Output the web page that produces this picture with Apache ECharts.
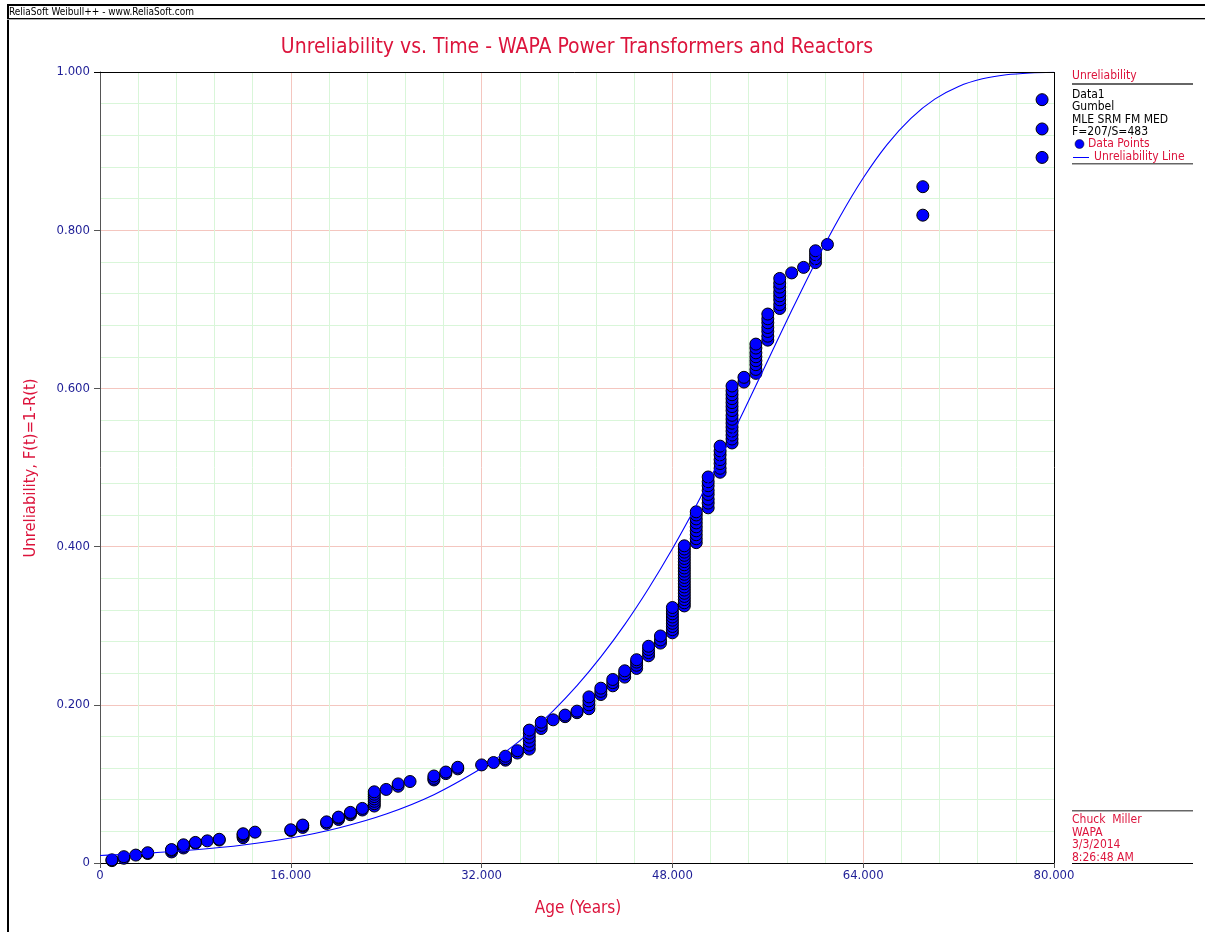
<!DOCTYPE html>
<html>
<head>
<meta charset="utf-8">
<script src="https://cdn.jsdelivr.net/npm/echarts@6/dist/echarts.min.js"></script>
<style>html,body{margin:0;padding:0;background:#fff}#c{width:1205px;height:932px}</style>
</head>
<body>
<div id="c"></div>
<script>
// Ages (years) of failure groups and their median-rank unreliability values
var groupAges = [1, 2, 3, 4, 6, 7, 8, 9, 10, 12, 13, 16, 17, 19, 20, 21, 22, 23, 24, 25, 26, 28, 29, 30,
  32, 33, 34, 35, 36, 37, 38, 39, 40, 41, 42, 43, 44, 45, 46, 47, 48, 49, 50, 51, 52, 53, 54, 55, 56, 57,
  58, 59, 60, 61, 69, 79];
var groupValues = [
  [0.003, 0.004],
  [0.006, 0.008],
  [0.010],
  [0.012, 0.013],
  [0.014, 0.016, 0.017],
  [0.019, 0.021, 0.023],
  [0.025, 0.026],
  [0.028],
  [0.029, 0.030],
  [0.032, 0.034, 0.036, 0.037],
  [0.039],
  [0.041, 0.042],
  [0.045, 0.047, 0.048],
  [0.050, 0.052],
  [0.055, 0.057, 0.058],
  [0.061, 0.063, 0.064],
  [0.067, 0.069],
  [0.072, 0.075, 0.078, 0.081, 0.084, 0.087, 0.090],
  [0.093],
  [0.097, 0.100],
  [0.103],
  [0.105, 0.107, 0.110],
  [0.113, 0.115],
  [0.119, 0.121],
  [0.124],
  [0.127],
  [0.130, 0.132, 0.135],
  [0.139, 0.142],
  [0.144, 0.149, 0.154, 0.159, 0.164, 0.168],
  [0.170, 0.174, 0.178],
  [0.181],
  [0.185, 0.187],
  [0.190, 0.192],
  [0.195, 0.200, 0.205, 0.210],
  [0.213, 0.217, 0.221],
  [0.224, 0.228, 0.232],
  [0.235, 0.239, 0.243],
  [0.246, 0.250, 0.254, 0.257],
  [0.262, 0.266, 0.270, 0.274],
  [0.278, 0.282, 0.287],
  [0.291, 0.295, 0.299, 0.303, 0.307, 0.311, 0.315, 0.319, 0.323],
  [0.325, 0.329, 0.333, 0.337, 0.341, 0.345, 0.349, 0.353, 0.357, 0.361, 0.365, 0.369, 0.373, 0.377,
   0.381, 0.385, 0.389, 0.393, 0.397, 0.401],
  [0.405, 0.410, 0.415, 0.420, 0.425, 0.430, 0.435, 0.440, 0.444],
  [0.449, 0.455, 0.460, 0.466, 0.471, 0.477, 0.482, 0.488],
  [0.494, 0.499, 0.505, 0.510, 0.516, 0.521, 0.527],
  [0.531, 0.536, 0.541, 0.546, 0.551, 0.556, 0.561, 0.566, 0.572, 0.577, 0.582, 0.587, 0.592, 0.597, 0.603],
  [0.608, 0.614],
  [0.619, 0.624, 0.630, 0.635, 0.640, 0.645, 0.651, 0.656],
  [0.661, 0.666, 0.672, 0.677, 0.683, 0.688, 0.694],
  [0.701, 0.706, 0.712, 0.717, 0.722, 0.728, 0.733, 0.739],
  [0.746],
  [0.753],
  [0.759, 0.764, 0.769, 0.774],
  [0.782],
  [0.819, 0.855],
  [0.892, 0.928, 0.965]
];
// Fitted Gumbel unreliability line
var curveT = [0, 4, 8, 12, 16, 20, 24, 28, 32, 34, 36, 38, 40, 42, 44, 46, 48, 50, 52, 54, 56, 58, 60,
  62, 64, 66, 68, 70, 72, 74, 76, 78, 80];
var curveF = [0.0095, 0.0125, 0.0168, 0.0228, 0.0316, 0.0443, 0.0619, 0.0863, 0.1197, 0.1405, 0.1646,
  0.1924, 0.2242, 0.2605, 0.3013, 0.347, 0.3972, 0.4519, 0.5106, 0.5722, 0.6353, 0.6984, 0.7593,
  0.8158, 0.866, 0.9083, 0.9415, 0.9657, 0.9818, 0.9914, 0.9965, 0.9988, 0.9997];
var xTicks = {min: 0, max: 80, interval: 16};
var yTicks = {min: 0, max: 1, interval: 0.2};

var pts = [];
groupAges.forEach(function (a, i) {
  groupValues[i].forEach(function (v) { pts.push([a, v]); });
});
var line = curveT.map(function (t, i) { return [t, curveF[i]]; });

var RED = '#dc143c', NAVY = '#1e1e96', FONT = '"DejaVu Sans Condensed", "DejaVu Sans", sans-serif';
function fmt(v) { return v === 0 ? '0' : v.toFixed(3); }

var chart = echarts.init(document.getElementById('c'));
chart.setOption({
  animation: false,
  backgroundColor: '#fff',
  grid: {left: 100, top: 72, width: 954, height: 791, show: false},
  xAxis: {
    type: 'value', min: xTicks.min, max: xTicks.max, interval: xTicks.interval,
    axisLine: {show: true, lineStyle: {color: '#000', width: 1}},
    axisTick: {show: true, length: 5, lineStyle: {color: '#555'}},
    axisLabel: {color: NAVY, fontSize: 13, fontFamily: FONT, margin: 6, formatter: fmt},
    splitLine: {show: true, lineStyle: {color: '#f4c6bf', width: 1}},
    minorTick: {show: false, splitNumber: 5},
    minorSplitLine: {show: true, lineStyle: {color: '#d9f6d9', width: 1}}
  },
  yAxis: {
    type: 'value', min: yTicks.min, max: yTicks.max, interval: yTicks.interval,
    axisLine: {show: true, lineStyle: {color: '#555', width: 1}},
    axisTick: {show: true, length: 6, lineStyle: {color: '#555'}},
    axisLabel: {color: NAVY, fontSize: 13, fontFamily: FONT, margin: 10, formatter: fmt},
    splitLine: {show: true, lineStyle: {color: '#f4c6bf', width: 1}},
    minorTick: {show: false, splitNumber: 5},
    minorSplitLine: {show: true, lineStyle: {color: '#d9f6d9', width: 1}}
  },
  series: [
    {
      type: 'scatter', data: pts, symbol: 'circle', symbolSize: 12, z: 2,
      itemStyle: {color: '#0000ff', borderColor: '#000', borderWidth: 1, opacity: 1}
    },
    {
      type: 'line', data: line, smooth: 0.3, showSymbol: false, z: 3,
      lineStyle: {color: '#0000ff', width: 1.1}
    }
  ],
  graphic: [
    {type: 'rect', shape: {x: 7, y: 4, width: 1198, height: 2}, style: {fill: '#000'}},
    {type: 'rect', shape: {x: 7, y: 4, width: 2, height: 928}, style: {fill: '#000'}},
    {type: 'rect', shape: {x: 7, y: 18, width: 1198, height: 1}, style: {fill: '#000'}},
    {type: 'rect', shape: {x: 7, y: 19, width: 1198, height: 1}, style: {fill: '#aaa'}},
    // plot frame top and right
    {type: 'line', z: 10, shape: {x1: 94, y1: 72.5, x2: 1054.5, y2: 72.5}, style: {stroke: '#000', lineWidth: 1}},
    {type: 'line', z: 10, shape: {x1: 1054.5, y1: 72, x2: 1054.5, y2: 863}, style: {stroke: '#000', lineWidth: 1}},
    {type: 'text', x: 9, y: 12, style: {text: 'ReliaSoft Weibull++ - www.ReliaSoft.com', fill: '#000', font: '10px ' + FONT, textVerticalAlign: 'middle'}},
    {type: 'text', x: 577, y: 48, style: {text: 'Unreliability vs. Time - WAPA Power Transformers and Reactors', fill: RED, font: '21px ' + FONT, textAlign: 'center', textVerticalAlign: 'middle'}},
    {type: 'text', x: 578, y: 909, style: {text: 'Age (Years)', fill: RED, font: '17px ' + FONT, textAlign: 'center', textVerticalAlign: 'middle'}},
    {type: 'text', x: 31, y: 468, rotation: Math.PI / 2, style: {text: 'Unreliability, F(t)=1-R(t)', fill: RED, font: '16.5px ' + FONT, textAlign: 'center', textVerticalAlign: 'middle'}},
    // legend
    {type: 'text', x: 1072, y: 76, style: {text: 'Unreliability', fill: RED, font: '12px ' + FONT, textVerticalAlign: 'middle'}},
    {type: 'rect', shape: {x: 1072, y: 83, width: 121, height: 2}, style: {fill: '#666'}},
    {type: 'text', x: 1072, y: 94.5, style: {text: 'Data1', fill: '#000', font: '12px ' + FONT, textVerticalAlign: 'middle'}},
    {type: 'text', x: 1072, y: 107, style: {text: 'Gumbel', fill: '#000', font: '12px ' + FONT, textVerticalAlign: 'middle'}},
    {type: 'text', x: 1072, y: 119.5, style: {text: 'MLE SRM FM MED', fill: '#000', font: '12px ' + FONT, textVerticalAlign: 'middle'}},
    {type: 'text', x: 1072, y: 132, style: {text: 'F=207/S=483', fill: '#000', font: '12px ' + FONT, textVerticalAlign: 'middle'}},
    {type: 'circle', shape: {cx: 1079.5, cy: 144, r: 4.5}, style: {fill: '#0000ff', stroke: '#000', lineWidth: 0.5}},
    {type: 'text', x: 1088, y: 144, style: {text: 'Data Points', fill: RED, font: '12px ' + FONT, textVerticalAlign: 'middle'}},
    {type: 'line', shape: {x1: 1073, y1: 157.5, x2: 1089, y2: 157.5}, style: {stroke: '#0000ff', lineWidth: 1}},
    {type: 'text', x: 1094, y: 157, style: {text: 'Unreliability Line', fill: RED, font: '12px ' + FONT, textVerticalAlign: 'middle'}},
    {type: 'rect', shape: {x: 1072, y: 163, width: 121, height: 1.5}, style: {fill: '#666'}},
    // bottom info
    {type: 'rect', shape: {x: 1072, y: 810, width: 121, height: 1.5}, style: {fill: '#666'}},
    {type: 'text', x: 1072, y: 820, style: {text: 'Chuck  Miller', fill: RED, font: '12px ' + FONT, textVerticalAlign: 'middle'}},
    {type: 'text', x: 1072, y: 832.5, style: {text: 'WAPA', fill: RED, font: '12px ' + FONT, textVerticalAlign: 'middle'}},
    {type: 'text', x: 1072, y: 845, style: {text: '3/3/2014', fill: RED, font: '12px ' + FONT, textVerticalAlign: 'middle'}},
    {type: 'text', x: 1072, y: 857.5, style: {text: '8:26:48 AM', fill: RED, font: '12px ' + FONT, textVerticalAlign: 'middle'}},
    {type: 'rect', shape: {x: 1072, y: 863, width: 121, height: 1}, style: {fill: '#000'}}
  ]
});
</script>
</body>
</html>
